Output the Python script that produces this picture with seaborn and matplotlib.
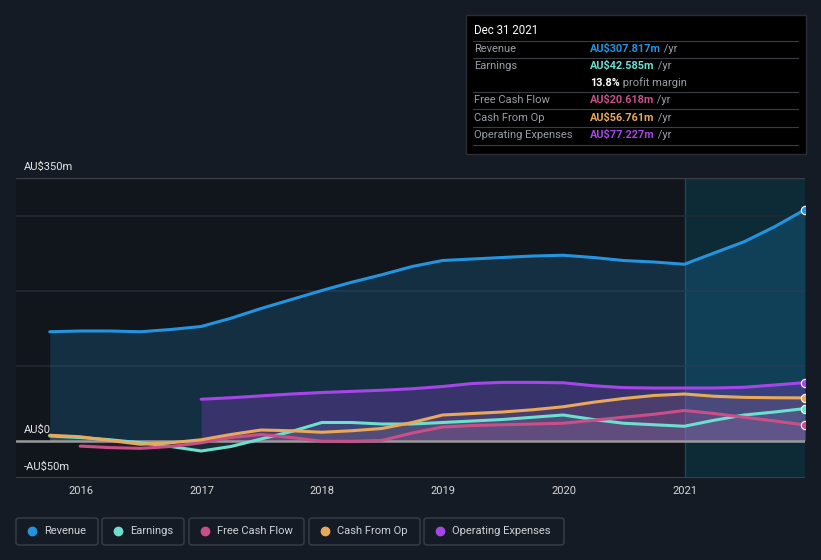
import numpy as np
import pandas as pd
import matplotlib
matplotlib.use("Agg")
import matplotlib.pyplot as plt
import matplotlib.dates as mdates
from matplotlib.patches import FancyBboxPatch, Rectangle
from matplotlib.lines import Line2D
import seaborn as sns

# Quarterly data (AU$ millions)
dates = ["2015-09-30", "2015-12-31", "2016-03-31", "2016-06-30", "2016-09-30", "2016-12-31",
         "2017-03-31", "2017-06-30", "2017-09-30", "2017-12-31", "2018-03-31", "2018-06-30",
         "2018-09-30", "2018-12-31", "2019-03-31", "2019-06-30", "2019-09-30", "2019-12-31",
         "2020-03-31", "2020-06-30", "2020-09-30", "2020-12-31", "2021-03-31", "2021-06-30",
         "2021-09-30", "2021-12-31"]
revenue = [145, 146, 146, 145, 148, 152, 163, 176, 188, 200, 211, 221, 232, 240, 242, 244,
           246, 247, 244, 240, 238, 235, 250, 265, 285, 307.8]
earnings = [6, 4, 1, -3, -8, -14, -8, 2, 12, 24, 24, 22, 22, 24, 26, 28, 31, 34, 28, 23,
            21, 19, 27, 34, 38, 42.6]
free_cash_flow = [np.nan, -7.5, -9.5, -10.5, -8, -3, 4, 8, 4, -1, -1, 0, 10, 18, 20, 21,
                  22, 23, 27, 31, 35, 40, 36, 31, 26, 20.6]
cash_from_op = [7, 5, 0, -5, -3, 1, 8, 14, 13, 11, 13, 16, 24, 34, 36, 38, 41, 45, 51, 56,
                60, 62, 59, 57.5, 57, 56.8]
operating_expenses = [np.nan] * 5 + [55, 57, 59.5, 62, 64, 65.5, 67, 69, 72, 76, 77.5, 77.5,
                                     77, 73, 70.5, 70, 70, 70, 71, 74, 77.2]

series_names = ["Revenue", "Earnings", "Free Cash Flow", "Cash From Op", "Operating Expenses"]
series_colors = ["#2394df", "#6ce0d0", "#c94f8a", "#e8a95b", "#a646e8"]
tooltip_values = ["AU$307.817m", "AU$42.585m", "AU$20.618m", "AU$56.761m", "AU$77.227m"]
y_labels = {350: "AU$350m", 0: "AU$0", -50: "-AU$50m"}

W, H = 821, 560
BG = "#151b25"

wide = pd.DataFrame({
    "date": pd.to_datetime(dates),
    "Revenue": revenue,
    "Earnings": earnings,
    "Free Cash Flow": free_cash_flow,
    "Cash From Op": cash_from_op,
    "Operating Expenses": operating_expenses,
})
df = wide.melt(id_vars="date", var_name="series", value_name="value").dropna()
palette = dict(zip(series_names, series_colors))

sns.set_theme(style="dark")
plt.rcParams["font.family"] = ["Roboto", "DejaVu Sans"]

fig = plt.figure(figsize=(W / 100, H / 100), dpi=100, facecolor=BG)
ax = fig.add_axes([16 / W, 1 - 478 / H, 789 / W, 300 / H])
ax.set_facecolor("#11151c")

x0 = pd.Timestamp("2015-06-20")
x1 = pd.Timestamp("2021-12-31")
ax.set_xlim(x0, x1)
ax.set_ylim(-50, 350)

# last-year highlight
ax.axvspan(pd.Timestamp("2021-01-01"), x1, color="#0a3a4a", alpha=0.6, lw=0, zorder=0)
ax.axvline(pd.Timestamp("2021-01-01"), color="#1d4756", lw=1, zorder=0.5)

# grid
for g in [100, 200, 300]:
    ax.axhline(g, color="#232831", lw=1.2, zorder=0.6)
ax.axhline(350, color="#3a3f48", lw=1, zorder=0.6)
ax.axhline(-50, color="#3a3f48", lw=1.5, zorder=0.6)

# area fills
fill_alpha = {"Revenue": 0.2, "Earnings": 0.12, "Free Cash Flow": 0.14,
              "Cash From Op": 0.12, "Operating Expenses": 0.25}
for name in series_names:
    s = wide[["date", name]].dropna()
    ax.fill_between(s["date"], s[name], 0, color=palette[name], alpha=fill_alpha[name],
                    lw=0, zorder=1)

ax.axhline(0, color="#9a9a9a", lw=1.8, zorder=2)

sns.lineplot(data=df, x="date", y="value", hue="series", hue_order=series_names,
             palette=palette, linewidth=2.2, legend=False, ax=ax, zorder=3)

# end markers
last = wide.iloc[-1]
for name in series_names:
    ax.scatter([last["date"]], [last[name]], s=36, color=palette[name],
               edgecolor="white", linewidth=0.8, zorder=4)

for sp in ax.spines.values():
    sp.set_visible(False)
ax.set_xlabel("")
ax.set_ylabel("")
ax.set_yticks([])
ax.xaxis.set_major_locator(mdates.YearLocator())
ax.xaxis.set_major_formatter(mdates.DateFormatter("%Y"))
ax.tick_params(axis="x", colors="#3a3f48", labelcolor="#d8d8d8", labelsize=8,
               length=3, width=1, pad=6, direction="in")

for val, lab in y_labels.items():
    ax.annotate(lab, xy=(0.01, val), xycoords=ax.get_yaxis_transform(),
                xytext=(0, 4), textcoords="offset points", ha="left", va="bottom",
                color="#e6e6e6", fontsize=8, zorder=5)


def fx(px):
    return px / W


def fy(py):
    return 1 - py / H


# tooltip box
fig.add_artist(Rectangle((fx(466), fy(154)), 340 / W, 139 / H, transform=fig.transFigure,
                         facecolor="#000000", edgecolor="#2a2d33", lw=1))
fig.text(fx(474), fy(31), "Dec 31 2021", color="white", fontsize=8.3, va="center")
for sy in [41, 58, 92, 109, 127, 145]:
    fig.add_artist(Line2D([fx(473), fx(798)], [fy(sy), fy(sy)], transform=fig.transFigure,
                          color="#3a3d44", lw=0.8))

row_y = [49, 66, 100, 118, 135]
for name, val, ry in zip(series_names, tooltip_values, row_y):
    fig.text(fx(474), fy(ry), name, color="#9a9ea6", fontsize=8, va="center")
    t = fig.text(fx(590), fy(ry), val, color=palette[name], fontsize=7.8, va="center",
                 fontweight="bold")
    fig.add_artist(plt.Annotation(" /yr", xy=(1, 0.5), xycoords=t, va="center",
                                  color="#9a9ea6", fontsize=8))
t = fig.text(fx(590), fy(83), "13.8%", color="white", fontsize=7.8, va="center",
             fontweight="bold")
fig.add_artist(plt.Annotation(" profit margin", xy=(1, 0.5), xycoords=t, va="center",
                              color="#9a9ea6", fontsize=8))

# legend
legend_boxes = [(16, 98), (102, 184), (189, 304), (309, 420), (424, 564)]
for (bx0, bx1), name, col in zip(legend_boxes, series_names, series_colors):
    fig.add_artist(FancyBboxPatch((fx(bx0), fy(545)), (bx1 - bx0) / W, 27 / H,
                                  boxstyle="round,pad=0,rounding_size=0.004",
                                  transform=fig.transFigure, facecolor="none",
                                  edgecolor="#3a3f4a", lw=1))
    fig.add_artist(Line2D([fx(bx0 + 16)], [fy(531)], marker="o", markersize=6,
                          color=col, transform=fig.transFigure, lw=0))
    fig.text(fx(bx0 + 28), fy(531), name, color="#cfd2d8", fontsize=8, va="center")

fig.savefig("out.png", dpi=100, facecolor=BG)
